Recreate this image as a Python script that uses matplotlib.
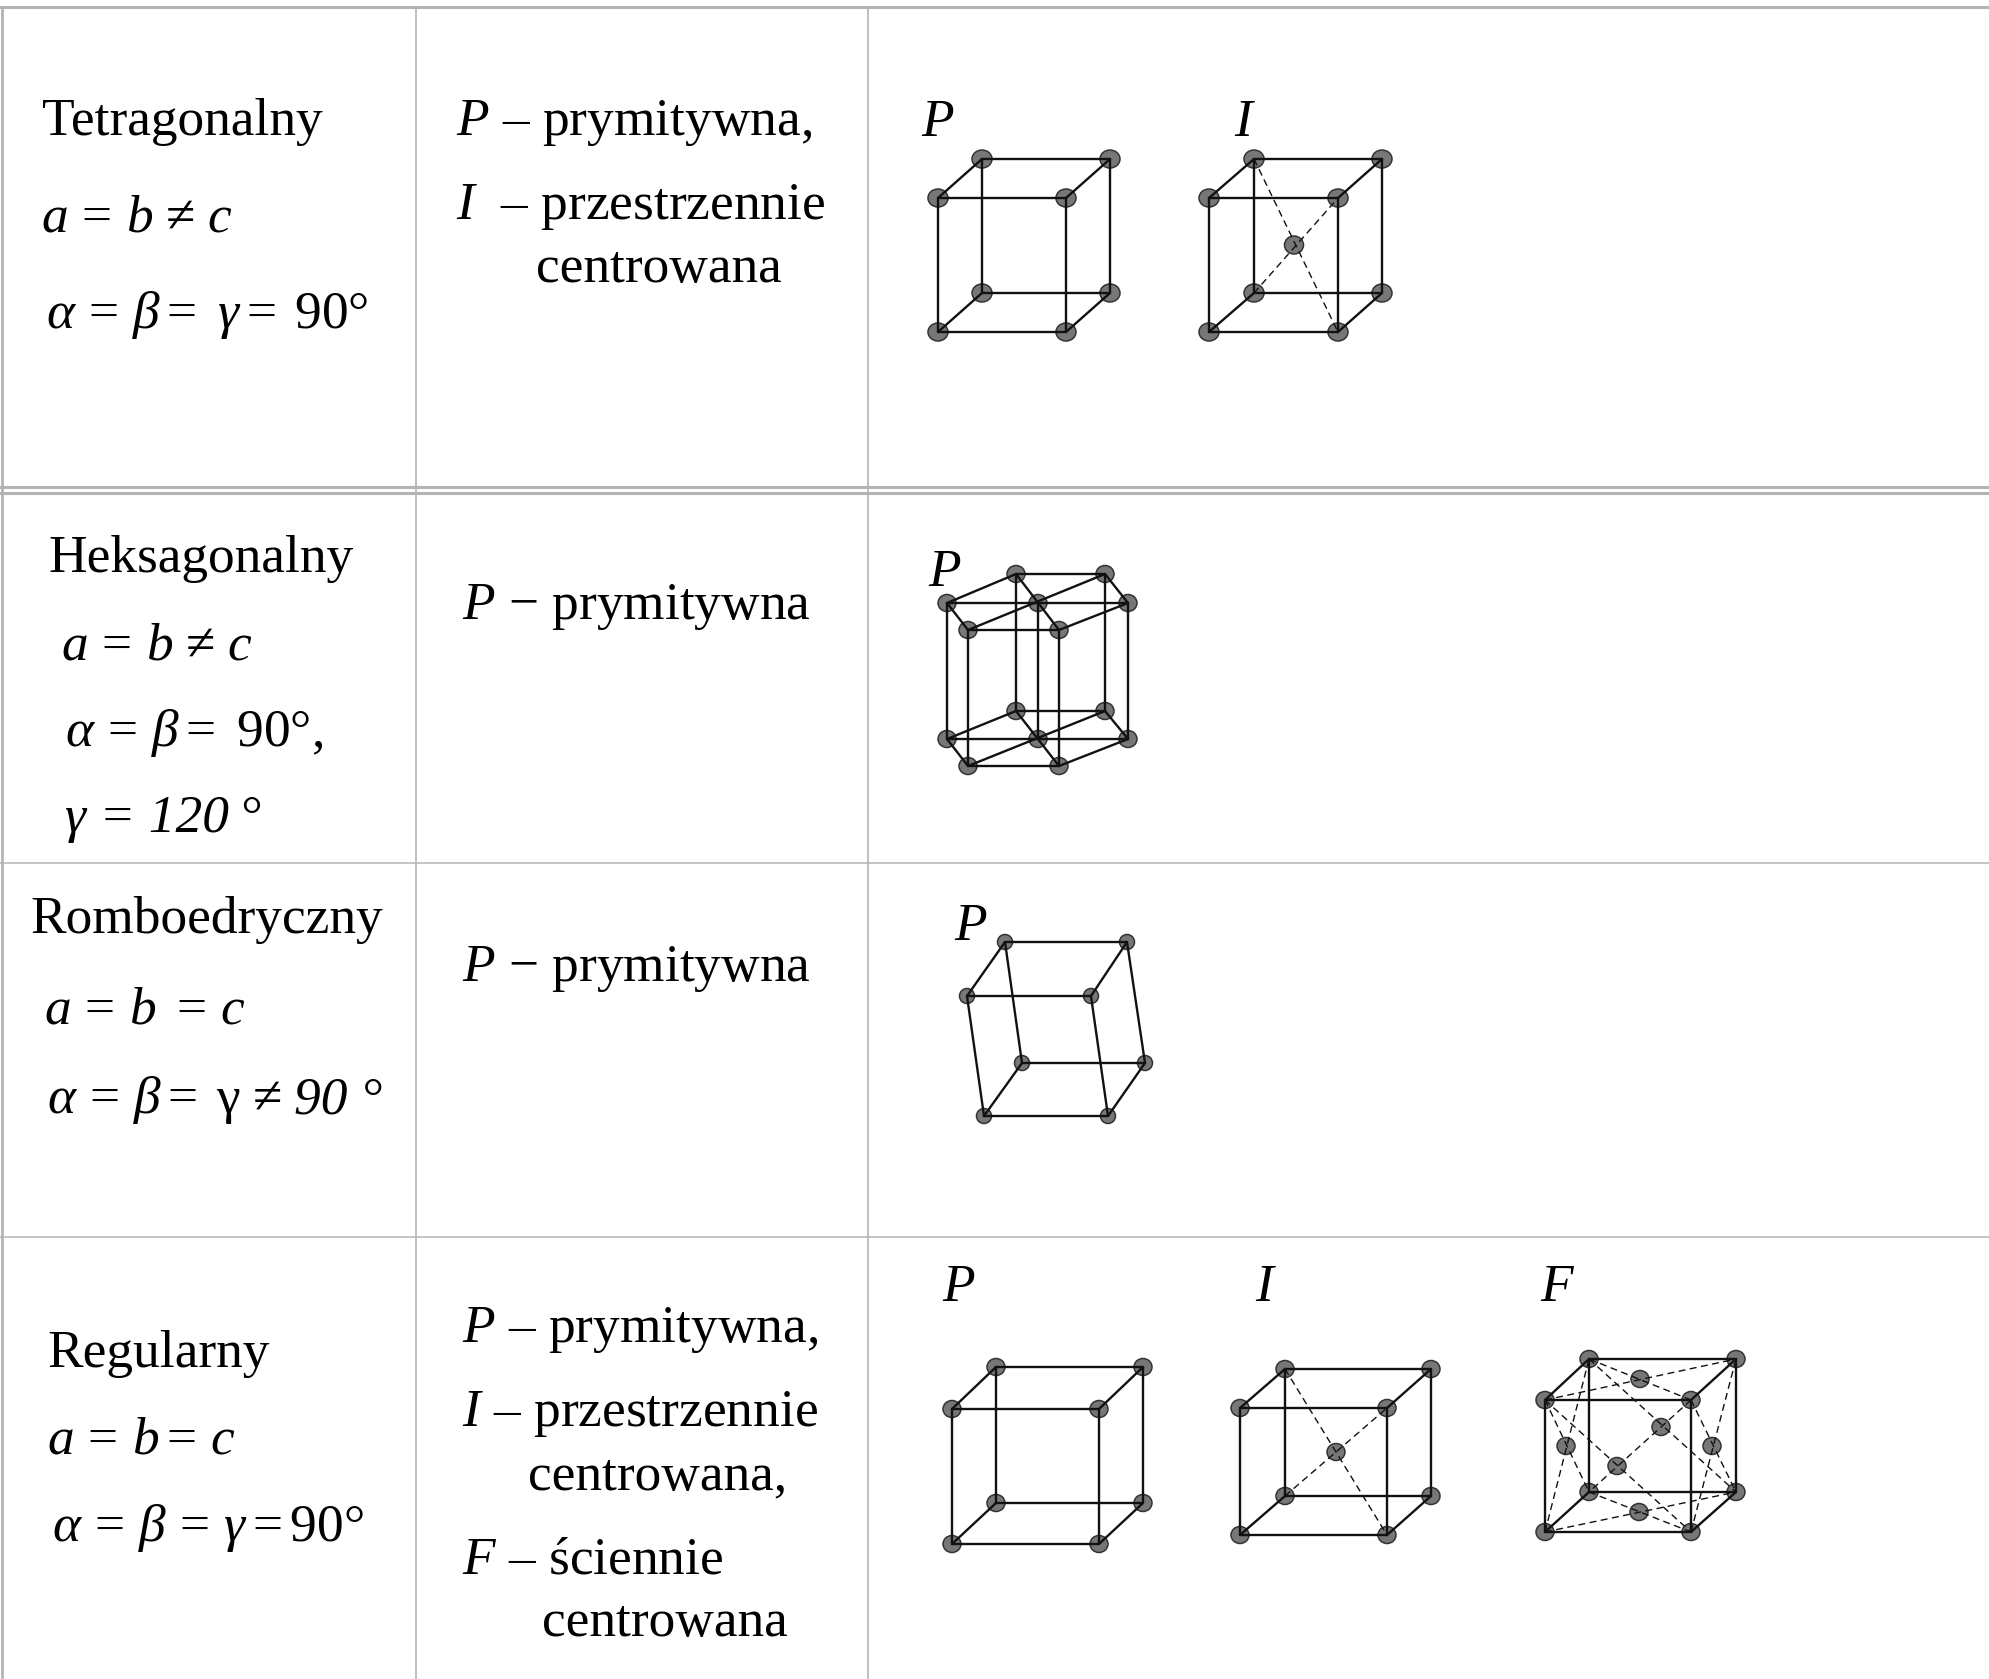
import matplotlib
matplotlib.use("Agg")
import matplotlib.pyplot as plt
from matplotlib.patches import Ellipse

plt.rcParams['font.family'] = ['Liberation Serif', 'DejaVu Serif']
plt.rcParams['mathtext.fontset'] = 'custom'
plt.rcParams['mathtext.rm'] = 'Liberation Serif'
plt.rcParams['mathtext.it'] = 'Liberation Serif:italic'
plt.rcParams['mathtext.bf'] = 'Liberation Serif:bold'

# siatki: narozniki w kolejnosci
# przod: LG, PG, LD, PD / tyl: LG, PG, LD, PD (piksele obrazka)
tetra_p = [(938, 198), (1066, 198), (938, 332), (1066, 332),
           (982, 159), (1110, 159), (982, 293), (1110, 293)]
tetra_i = [(1209, 198), (1338, 198), (1209, 332), (1338, 332),
           (1254, 159), (1382, 159), (1254, 293), (1382, 293)]
tetra_i_center = [(1294, 245)]

rombo_p = [(967, 996), (1091, 996), (984, 1116), (1108, 1116),
           (1005, 942), (1127, 942), (1022, 1063), (1145, 1063)]

reg_p = [(952, 1409), (1099, 1409), (952, 1544), (1099, 1544),
         (996, 1367), (1143, 1367), (996, 1503), (1143, 1503)]
reg_i = [(1240, 1408), (1387, 1408), (1240, 1535), (1387, 1535),
         (1285, 1369), (1431, 1369), (1285, 1496), (1431, 1496)]
reg_i_center = [(1336, 1452)]
reg_f = [(1545, 1400), (1691, 1400), (1545, 1532), (1691, 1532),
         (1589, 1359), (1736, 1359), (1589, 1492), (1736, 1492)]
reg_f_faces = [(1640, 1379), (1639, 1512), (1566, 1446),
               (1712, 1446), (1661, 1427), (1617, 1466)]

# heksagon: lewy, tyl-lewy, tyl-prawy, prawy, przod-prawy, przod-lewy, srodek
hex_top = [(947, 603), (1016, 574), (1105, 574), (1128, 603),
           (1059, 630), (968, 630), (1038, 603)]
hex_bottom = [(947, 739), (1016, 711), (1105, 711), (1128, 739),
              (1059, 766), (968, 766), (1038, 739)]

# opisy: (x, y linii bazowej, tekst)
col1_labels = [
    (42, 135, "Tetragonalny"),
    (41, 232, "$a\\,=\\,b\\,\\,≠\\,\\,c$"),
    (46, 328, "$α\\,=\\,β=\\,\\,γ=\\;90°$"),
    (48, 572, "Heksagonalny"),
    (61, 659, "$a\\,=\\,b\\,\\,≠\\,\\,c$"),
    (65, 746, "$α\\,=\\,β=\\,\\,90°,$"),
    (30, 933, "Romboedryczny"),
    (44, 1023, "$a\\,=\\,b\\ =\\,c$"),
    (47, 1113, "$α\\,=\\,β=\\;\\mathrm{γ}\\ ≠$"),
    (47, 1367, "Regularny"),
    (47, 1453, "$a\\,=\\,b=\\,c$"),
    (52, 1541, "$α\\,=\\,β\\,=\\,γ=90°$"),
]
col1_italic = [
    (65, 832, "γ = 120\u2009°"),
    (294, 1113, "90 °"),
]
col2_labels = [
    (456, 135, "$P$ – prymitywna,"),
    (456, 219, "$I$  – przestrzennie"),
    (536, 282, "centrowana"),
    (462, 619, "$P$ − prymitywna"),
    (462, 981, "$P$ − prymitywna"),
    (462, 1342, "$P$ – prymitywna,"),
    (462, 1426, "$I$ – przestrzennie"),
    (528, 1489, "centrowana,"),
    (462, 1573, "$F$ – ściennie"),
    (542, 1636, "centrowana"),
]
lattice_labels = [
    (921, 136, "P"), (1234, 136, "I"), (928, 586, "P"), (954, 940, "P"),
    (942, 1301, "P"), (1255, 1301, "I"), (1540, 1301, "F"),
]

fig = plt.figure(figsize=(19.9, 16.79), dpi=100)
ax = fig.add_axes([0, 0, 1, 1])
ax.set_xlim(0, 1990)
ax.set_ylim(1679, 0)
ax.axis('off')

GRID = '#b4b4b4'
CUBE_EDGES = [(0, 1), (2, 3), (0, 2), (1, 3), (4, 5), (6, 7), (4, 6), (5, 7),
              (0, 4), (1, 5), (2, 6), (3, 7)]


def line(a, b, dashed=False):
    if dashed:
        ax.plot([a[0], b[0]], [a[1], b[1]], color='#111111', lw=1.0,
                dashes=(5, 3.2), zorder=4)
    else:
        ax.plot([a[0], b[0]], [a[1], b[1]], color='#111111', lw=1.7,
                solid_capstyle='round', zorder=3)


def atoms(points, w=18, h=17):
    for x, y in points:
        ax.add_patch(Ellipse((x, y), w, h, facecolor='#777777',
                             edgecolor='#333333', lw=1.1, zorder=2))


def cube(c, w=18, h=17):
    atoms(c, w, h)
    for i, j in CUBE_EDGES:
        line(c[i], c[j])


# linie tabeli
for y, lw in [(7, 2.2), (487, 2.2), (493, 2.2), (863, 1.1), (1237, 1.1)]:
    ax.plot([0, 1990], [y, y], color=GRID, lw=lw, zorder=1)
for x, lw in [(2, 2.0), (416, 1.2), (868, 1.2)]:
    ax.plot([x, x], [7, 1679], color=GRID, lw=lw, zorder=1)

# rzad 1
cube(tetra_p, 20, 18)
cube(tetra_i, 20, 18)
atoms(tetra_i_center, 19, 18)
line(tetra_i[4], tetra_i[3], True)
line(tetra_i[6], tetra_i[1], True)

# rzad 2
atoms(hex_top)
atoms(hex_bottom)
for ring in (hex_top, hex_bottom):
    for k in range(6):
        line(ring[k], ring[(k + 1) % 6])
    for k in (0, 1, 2):
        line(ring[k], ring[k + 3])
for a, b in zip(hex_top, hex_bottom):
    line(a, b)

# rzad 3
cube(rombo_p, 15, 15)

# rzad 4
cube(reg_p)
cube(reg_i)
atoms(reg_i_center)
line(reg_i[4], reg_i[3], True)
line(reg_i[6], reg_i[1], True)
cube(reg_f)
atoms(reg_f_faces)
for i, j in [(0, 5), (1, 4), (2, 7), (3, 6), (0, 6), (2, 4), (1, 7), (3, 5),
             (4, 7), (0, 3), (1, 6)]:
    line(reg_f[i], reg_f[j], True)

# teksty
FS = 38.4
for x, y, s in col1_labels + col2_labels:
    ax.text(x, y, s, fontsize=FS, va='baseline', ha='left', color='black')
for x, y, s in col1_italic + lattice_labels:
    ax.text(x, y, s, fontsize=FS, va='baseline', ha='left', color='black',
            style='italic')

plt.savefig("out.png", dpi=100)
